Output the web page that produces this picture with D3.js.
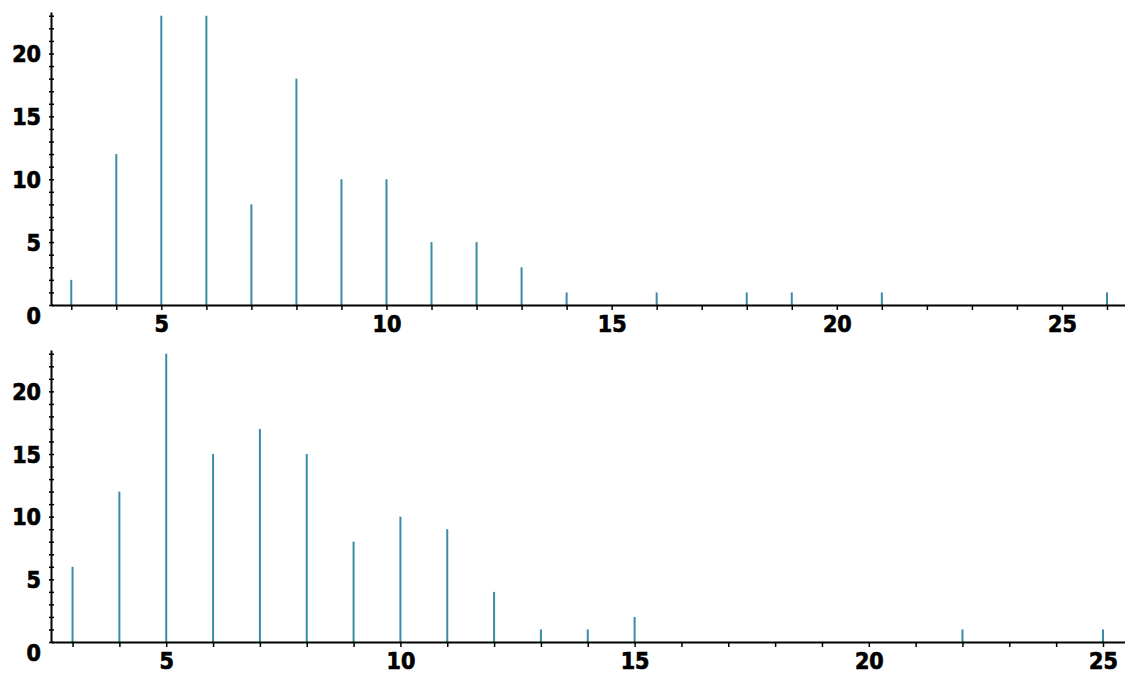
<!DOCTYPE html>
<html>
<head>
<meta charset="utf-8">
<script src="https://cdn.jsdelivr.net/npm/d3@7/dist/d3.min.js"></script>
<style>
  body { margin: 0; background: #fff; }
  .axis text { font-family: "DejaVu Sans Condensed", "DejaVu Sans", sans-serif; font-weight: bold; font-size: 23px; fill: #000; stroke: #000; stroke-width: 0.7px; }
  .axis path, .axis line { stroke: #000; }
</style>
</head>
<body>
<div id="chart"></div>
<script>
var width = 1125, height = 675;

// top panel: value -> count
var topValues = [3, 4, 5, 6, 7, 8, 9, 10, 11, 12, 13, 14, 16, 18, 19, 21, 26];
var topCounts = [2, 12, 23, 23, 8, 18, 10, 10, 5, 5, 3, 1, 1, 1, 1, 1, 1];

// bottom panel
var bottomValues = [3, 4, 5, 6, 7, 8, 9, 10, 11, 12, 13, 14, 15, 22, 25];
var bottomCounts = [6, 12, 23, 15, 17, 15, 8, 10, 9, 4, 1, 1, 2, 1, 1];

var topXTicks = [3, 4, 5, 6, 7, 8, 9, 10, 11, 12, 13, 14, 15, 16, 17, 18, 19, 20, 21, 22, 23, 24, 25, 26];
var bottomXTicks = [3, 4, 5, 6, 7, 8, 9, 10, 11, 12, 13, 14, 15, 16, 17, 18, 19, 20, 21, 22, 23, 24, 25];
var yTicks = [0, 1, 2, 3, 4, 5, 6, 7, 8, 9, 10, 11, 12, 13, 14, 15, 16, 17, 18, 19, 20, 21, 22, 23];

var svg = d3.select('#chart').append('svg')
    .attr('width', width)
    .attr('height', height);

function drawPanel(vals, counts, xTicks, xDomain, top, bottom) {
    var x = d3.scaleLinear().domain(xDomain).range([51, 1125]);
    var y = d3.scaleLinear().domain([0, 23.3]).range([bottom, top]);
    var g = svg.append('g');

    // bars (thin stems)
    g.selectAll('line.bar')
        .data(vals)
        .enter().append('line')
        .attr('class', 'bar')
        .attr('x1', function(d){ return x(d) })
        .attr('x2', function(d){ return x(d) })
        .attr('y1', y(0))
        .attr('y2', function(d, i){ return y(counts[i]) })
        .attr('stroke', '#3a8ca6')
        .attr('stroke-width', 2);

    var xAxis = d3.axisBottom(x)
        .tickValues(xTicks)
        .tickSizeInner(5)
        .tickSizeOuter(0)
        .tickPadding(6)
        .tickFormat(function(d){ return d % 5 === 0 ? d : '' });

    var gx = g.append('g')
        .attr('class', 'axis')
        .attr('transform', 'translate(0,' + y(0) + ')')
        .call(xAxis);
    gx.select('.domain').attr('stroke-width', 2);
    gx.selectAll('.tick line').attr('stroke-width', 1.5);

    var yAxis = d3.axisLeft(y)
        .tickValues(yTicks)
        .tickSizeInner(4)
        .tickSizeOuter(0)
        .tickPadding(6)
        .tickFormat(function(d){ return d % 5 === 0 ? d : '' });

    var gy = g.append('g')
        .attr('class', 'axis')
        .attr('transform', 'translate(51,0)')
        .call(yAxis);
    gy.select('.domain').attr('stroke-width', 2);
    gy.selectAll('.tick line').attr('x2', -2).attr('x1', 3).attr('stroke-width', 1.5);
    gy.selectAll('.tick text')
        .attr('x', -10)
        .attr('dy', function(d){ return d === 0 ? '0.8em' : '0.36em' });
}

drawPanel(topValues, topCounts, topXTicks, [2.55, 26.4], 12, 305);
drawPanel(bottomValues, bottomCounts, bottomXTicks, [2.54, 25.47], 350, 642);
</script>
</body>
</html>
